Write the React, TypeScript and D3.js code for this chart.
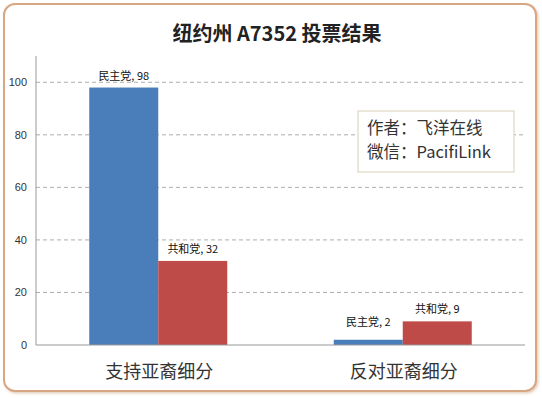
import React from "react";
import * as d3 from "d3";

const categories = ["支持亚裔细分", "反对亚裔细分"];
const parties = ["民主党", "共和党"];
const demValues = [98, 2];
const repValues = [32, 9];
const yTicks = [0, 20, 40, 60, 80, 100];
const title = "纽约州 A7352 投票结果";
const noteLines = ["作者：飞洋在线", "微信：PacifiLink"];

const W = 542;
const H = 398;
const plot = { left: 36, right: 525, top: 56, bottom: 345 };
const colors = ["#4a7ebb", "#be4b48"];
const cjk = "'Noto Sans CJK SC', 'Noto Sans', sans-serif";

export default function App() {
  const x0 = d3.scaleBand<string>().domain(categories).range([plot.left, plot.right]).paddingInner(0).paddingOuter(0);
  const x1 = d3.scaleBand<string>().domain(parties).range([0, 138]);
  const y = d3.scaleLinear().domain([0, 110]).range([plot.bottom, plot.top]);
  const series = [demValues, repValues];

  return (
    <svg width={W} height={H} style={{ position: "absolute", left: 0, top: 0, background: "#fff" }}>
      <defs>
        <filter id="sh" x="-5%" y="-5%" width="110%" height="110%">
          <feDropShadow dx="1.5" dy="1.5" stdDeviation="1.2" floodColor="#c8a080" floodOpacity="0.5" />
        </filter>
      </defs>
      <rect x={4} y={4} width={532} height={387} rx={11} ry={11} fill="#fff" stroke="#d9a684" strokeWidth={2} filter="url(#sh)" />
      <text x={277} y={41} textAnchor="middle" fontFamily={cjk} fontWeight="bold" fontSize={20} fill="#222">{title}</text>
      {yTicks.filter((t) => t > 0).map((t) => (
        <line key={t} x1={plot.left} x2={plot.right} y1={y(t)} y2={y(t)} stroke="#999" strokeDasharray="4,3" strokeWidth={0.8} />
      ))}
      <line x1={plot.left} x2={plot.left} y1={plot.top} y2={plot.bottom} stroke="#999" strokeWidth={1} />
      {yTicks.map((t) => (
        <text key={t} x={27} y={y(t) + 4} textAnchor="end" fontFamily="'Liberation Sans', Arial, sans-serif" fontSize={11} fill="#333">{t}</text>
      ))}
      {categories.map((c, ci) => {
        const gx = (x0(c) as number) + x0.bandwidth() / 2 - 69;
        return (
          <g key={c}>
            {parties.map((p, pi) => {
              const v = series[pi][ci];
              const bx = gx + (x1(p) as number);
              const bw = x1.bandwidth();
              return (
                <g key={p}>
                  <rect x={bx} y={y(v)} width={bw} height={plot.bottom - y(v)} fill={colors[pi]} />
                  <text x={bx + bw / 2} y={y(v) - (v < 5 ? 14 : 8)} textAnchor="middle" fontFamily={cjk} fontSize={11} fill="#111">{`${p}, ${v}`}</text>
                </g>
              );
            })}
            <text x={(x0(c) as number) + x0.bandwidth() / 2 + 1} y={378} textAnchor="middle" fontFamily={cjk} fontSize={18} fill="#333">{c}</text>
          </g>
        );
      })}
      <line x1={plot.left} x2={plot.right} y1={plot.bottom} y2={plot.bottom} stroke="#999" strokeWidth={1} />
      <rect x={358} y={111} width={156} height={61} fill="#fff" stroke="#d8d0b8" strokeWidth={1} />
      {noteLines.map((l, i) => (
        <text key={i} x={367} y={134 + i * 24} fontFamily={cjk} fontSize={16.5} fill="#333">{l}</text>
      ))}
    </svg>
  );
}
